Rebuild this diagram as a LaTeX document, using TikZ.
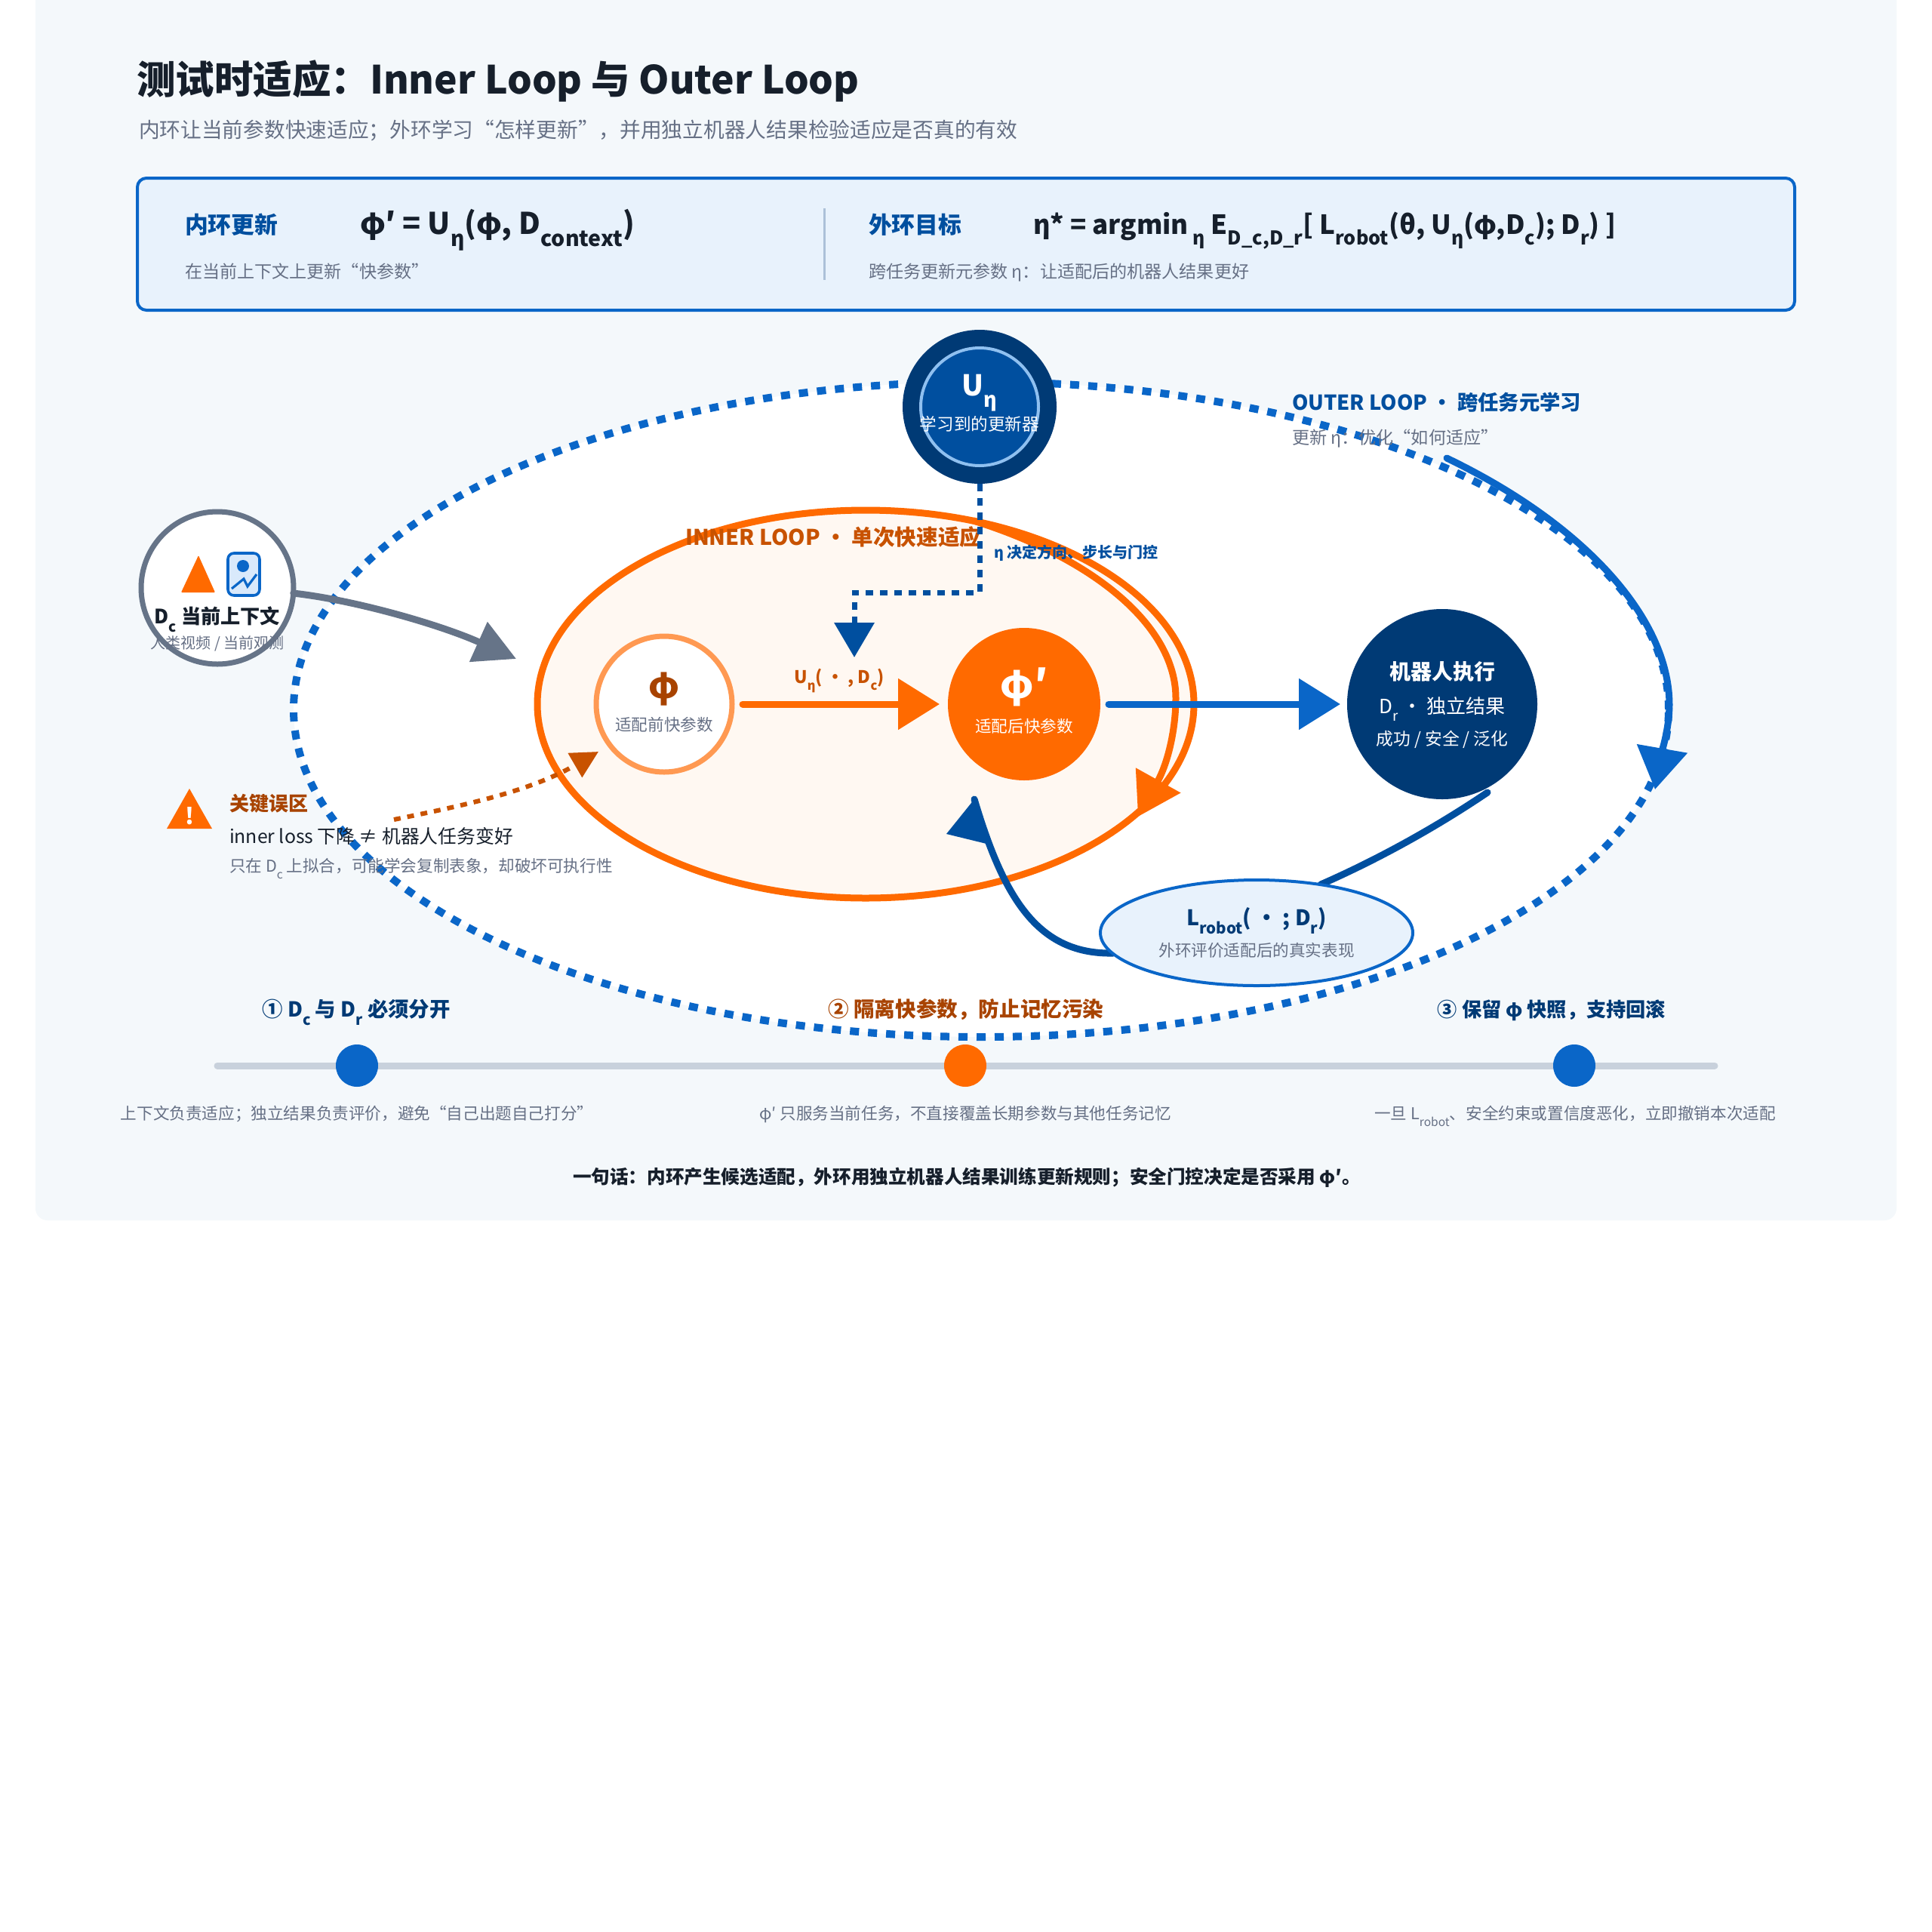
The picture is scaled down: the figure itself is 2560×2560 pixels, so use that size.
\documentclass[tikz,border=0pt]{standalone}
\usepackage{fontspec}
\usepackage{xfp}
\usetikzlibrary{arrows.meta,shapes.geometric}
\setmainfont{Noto Sans CJK SC}
\newcommand\fs[1]{\fontsize{#1}{#1}\selectfont}
\makeatletter
\newcommand\subt[1]{\raisebox{-0.42em}{\fontsize{\fpeval{0.72*\f@size}}{1}\selectfont #1}}
\makeatother
\definecolor{panelbg}{HTML}{F4F8FB}
\definecolor{blueA}{HTML}{0A66C8}
\definecolor{blueB}{HTML}{004F9F}
\definecolor{navy}{HTML}{003A75}
\definecolor{orangeA}{HTML}{FF6A00}
\definecolor{orangeB}{HTML}{C85200}
\definecolor{brown}{HTML}{A84300}
\definecolor{greytxt}{HTML}{667085}
\definecolor{slate}{HTML}{667488}
\definecolor{inktxt}{HTML}{161F2B}
\definecolor{boxbg}{HTML}{E8F2FC}
\tikzset{
  lab/.style={anchor=base west,inner sep=0pt,outer sep=0pt},
  labc/.style={anchor=base,inner sep=0pt,outer sep=0pt},
  ring/.style={circle,inner sep=0pt,outer sep=0pt},
  tipbig/.style={-{Triangle[length=27.5pt,width=33pt]}},
  tipeq/.style={-{Triangle[length=27.5pt,width=28pt]}},
  tipmid/.style={-{Triangle[length=23pt,width=26pt]}},
  conn/.style={line width=4.5pt,line cap=round},
}
\begin{document}
\begin{tikzpicture}[x=0.5pt,y=-0.5pt]
\useasboundingbox (0,0) rectangle (2560,2560);
\fill[white] (0,0) rectangle (2560,2560);
\fill[panelbg] (47,0) [rounded corners=8pt] -- (47,1617) -- (2513,1617) [sharp corners] -- (2513,0) -- cycle;

% title
\node (title) [lab,text=inktxt] at (181,124) {\fs{25.75}\bfseries 测试时适应：Inner Loop 与 Outer Loop};
\node (subtitle) [lab,text=greytxt] at (184,182) {\fs{13.86}内环让当前参数快速适应；外环学习“怎样更新”，并用独立机器人结果检验适应是否真的有效};

% formula box
\draw[blueA,line width=2pt,fill=boxbg,rounded corners=6pt] (182,236) rectangle (2378,411);
\draw[color={rgb,255:red,172;green,193;blue,216},line width=1.5pt] (1092,276) -- (1092,371);
\node (fA) [lab,text=blueB] at (245,309) {\fs{15.4}\bfseries 内环更新};
\node (fAeq) [lab,text=inktxt] at (477,310) {\fs{19.8}\bfseries φ′ = U\subt{η}(φ, D\subt{context})};
\node (fAn) [lab,text=greytxt] at (245,368) {\fs{11.55}在当前上下文上更新“快参数”};
\node (fB) [lab,text=blueB] at (1151,309) {\fs{15.4}\bfseries 外环目标};
\node (fBeq) [lab,text=inktxt] at (1369,310) {\fs{17.5}\bfseries η* = argmin\,\subt{η} E\subt{D\_c,D\_r}[ L\subt{robot}(θ, U\subt{η}(φ,D\subt{c}); D\subt{r}) ]};
\node (fBn) [lab,text=greytxt] at (1151,368) {\fs{11.55}跨任务更新元参数 η：让适配后的机器人结果更好};

% outer loop
\node (outerLoop) [ellipse,draw=blueA,fill=white,line width=5pt,dash pattern=on 6pt off 6pt,inner sep=0pt,outer sep=0pt,minimum width=911pt,minimum height=434pt] at (1300,940) {};
\coordinate (oS) at (1917,607);
\coordinate (oT) at (2193,1046);
\draw[blueA,conn,tipbig] (oS) .. controls (2100,695) and (2212,820) .. (2212,934) .. controls (2212,965) and (2201,1000) .. (oT);

\node (outerT) [lab,text=blueB] at (1712,543) {\fs{13.65}\bfseries OUTER LOOP ・ 跨任务元学习};
\node (outerN) [lab,text=greytxt] at (1712,588) {\fs{11.56}更新 η：优化“如何适应”};

% inner loop
\node (innerLoop) [ellipse,draw=orangeA,fill=orangeA!5!white,line width=4.5pt,inner sep=0pt,outer sep=0pt,minimum width=435pt,minimum height=257pt] at (1147,933) {};
\coordinate (iS) at (1290,690);
\coordinate (iT) at (1508,1082);
\draw[orangeA,conn,tipbig] (iS) .. controls (1450,740) and (1558,830) .. (1558,925) .. controls (1558,965) and (1548,1010) .. (iT);
\node (innerT) [lab,text=orangeB] at (908,722) {\fs{14.3}\bfseries INNER LOOP ・ 单次快速适应};

% U node
\node (U) [ring,fill=navy,minimum size=102pt] at (1298,539) {};
\node (Uin) [ring,draw={rgb,255:red,143;green,192;blue,240},fill=blueB,line width=2pt,minimum size=78pt] at (1298,539) {};
\node (Ut) [labc,text=white] at (1298,524) {\fs{19}\bfseries U\subt{η}};
\node (Un) [labc,text=white] at (1298,570) {\fs{11.3}学习到的更新器};

% eta control
\coordinate (etaA) at (1298,785);
\coordinate (etaB) at (1132,785);
\coordinate (etaT) at (1132,871);
\draw[blueB,line width=3.5pt,dash pattern=on 5pt off 4.5pt,tipmid] (U.south) -- (etaA) -- (etaB) -- (etaT);
\node (etaL) [lab,text=blueB] at (1317,739) {\fs{10}\bfseries η 决定方向、步长与门控};

% phi nodes
\node (phi) [ring,draw={rgb,255:red,255;green,153;blue,82},fill=white,line width=3.5pt,minimum size=90pt] at (880,933) {};
\node (phiT) [labc,text=brown] at (880,925) {\fs{24}\bfseries φ};
\node (phiN) [labc,text=greytxt] at (880,968) {\fs{10.8}适配前快参数};
\node (phip) [ring,fill=orangeA,minimum size=101pt] at (1357,933) {};
\node (phipT) [labc,text=white] at (1357,925) {\fs{26}\bfseries φ′};
\node (phipN) [labc,text=white] at (1357,970) {\fs{10.8}适配后快参数};
\draw[orangeA,conn,tipbig,shorten <=7pt,shorten >=5.5pt] (phi) -- (phip);
\node (uLab) [labc,text=orangeB] at (1112,905) {\fs{11.5}\bfseries U\subt{η}( ・ , D\subt{c})};

% robot
\node (robot) [ring,fill=navy,minimum size=126pt] at (1911,933) {};
\node (robotA) [labc,text=white] at (1911,900) {\fs{14}\bfseries 机器人执行};
\node (robotB) [labc,text=white] at (1911,945) {\fs{13}D\subt{r} ・ 独立结果};
\node (robotC) [labc,text=white] at (1911,987) {\fs{11.4}成功 / 安全 / 泛化};
\draw[blueA,conn,tipbig,shorten <=5.5pt,shorten >=4.5pt] (phip) -- (robot);

% L robot
\coordinate (rTail) at (1971,1050);
\coordinate (lIn) at (1750,1172);
\draw[blueB,conn] (rTail) .. controls (1900,1098) and (1823,1140) .. (lIn);
\coordinate (lOut) at (1475,1263);
\coordinate (phipIn) at (1291,1059);
\draw[blueB,conn] (lOut) .. controls (1375,1265) and (1330,1190) .. (phipIn);
\fill[blueB] (1254,1105) -- (1307,1118) -- (phipIn) -- cycle;
\node (lrobot) [ellipse,draw=blueA,fill=boxbg,line width=2pt,inner sep=0pt,outer sep=0pt,minimum width=207pt,minimum height=70pt] at (1665,1236) {};
\node (lrobotA) [labc,text=navy] at (1665,1226) {\fs{14.25}\bfseries L\subt{robot}( ・ ; D\subt{r})};
\node (lrobotB) [labc,text=greytxt] at (1665,1267) {\fs{10.8}外环评价适配后的真实表现};

% context
\node (ctx) [ring,draw=slate,fill=white,line width=3.5pt,minimum size=101pt] at (288,779) {};
\fill[orangeA,rounded corners=0.5pt] (263,736) -- (285,785) -- (240,785) -- cycle;
\draw[blueA,line width=1.8pt,fill={rgb,255:red,217;green,233;blue,251},rounded corners=4pt] (302,733) rectangle (344,789);
\fill[blueA] (322,750) circle (4pt);
\draw[blueA,line width=1.6pt] (307,780) -- (323,767) -- (328,777) -- (340,761);
\node (ctxA) [labc,text=inktxt] at (288,826) {\fs{13.1}\bfseries D\subt{c} 当前上下文};
\node (ctxB) [labc,text=greytxt] at (288,859) {\fs{10}人类视频 / 当前观测};
\coordinate (inEntry) at (684,873);
\draw[slate,conn,tipeq] (ctx.-4) .. controls (470,795) and (584,828) .. (inEntry);

% warning
\fill[orangeA] (251,1045) -- (281,1098) -- (221,1098) -- cycle;
\node (warnMark) [labc,text=white] at (251,1092) {\fs{15}\bfseries !};
\node (warnA) [lab,text=brown] at (304,1074) {\fs{13}\bfseries 关键误区};
\node (warnB) [lab,text=inktxt] at (304,1117) {\fs{12.4}inner loss 下降 ≠ 机器人任务变好};
\node (warnC) [lab,text=greytxt] at (304,1155) {\fs{10.8}只在 D\subt{c} 上拟合，可能学会复制表象，却破坏可执行性};
\coordinate (wS) at (522,1086);
\coordinate (wT) at (793,996);
\draw[orangeB,line width=3pt,dash pattern=on 4.5pt off 4.5pt,-{Triangle[length=18pt,width=18pt]}] (wS) .. controls (610,1068) and (700,1050) .. (wT);

% timeline
\coordinate (tlA) at (288,1412);
\coordinate (tlB) at (2272,1412);
\draw[color={rgb,255:red,200;green,209;blue,220},line width=4.5pt,line cap=round] (tlA) -- (tlB);
\node (dotA) [ring,fill=blueA,minimum size=28pt] at (473,1412) {};
\node (dotB) [ring,fill=orangeA,minimum size=28pt] at (1279,1412) {};
\node (dotC) [ring,fill=blueA,minimum size=28pt] at (2086,1412) {};
\node (tA) [labc,text=navy] at (472,1347) {\fs{13.7}\bfseries ① D\subt{c} 与 D\subt{r} 必须分开};
\node (tB) [labc,text=brown] at (1280,1347) {\fs{13.8}\bfseries ② 隔离快参数，防止记忆污染};
\node (tC) [labc,text=navy] at (2056,1347) {\fs{13.1}\bfseries ③ 保留 φ 快照，支持回滚};
\node (dA) [labc,text=greytxt] at (473,1483) {\fs{10.8}上下文负责适应；独立结果负责评价，避免“自己出题自己打分”};
\node (dB) [labc,text=greytxt] at (1279,1483) {\fs{10.8}φ′ 只服务当前任务，不直接覆盖长期参数与其他任务记忆};
\node (dC) [labc,text=greytxt] at (2087,1483) {\fs{10.8}一旦 L\subt{robot}、安全约束或置信度恶化，立即撤销本次适配};
\node (bottomLine) [labc,text=inktxt] at (1281,1568) {\fs{12.3}\bfseries 一句话：内环产生候选适配，外环用独立机器人结果训练更新规则；安全门控决定是否采用 φ′。};
\end{tikzpicture}
\end{document}
